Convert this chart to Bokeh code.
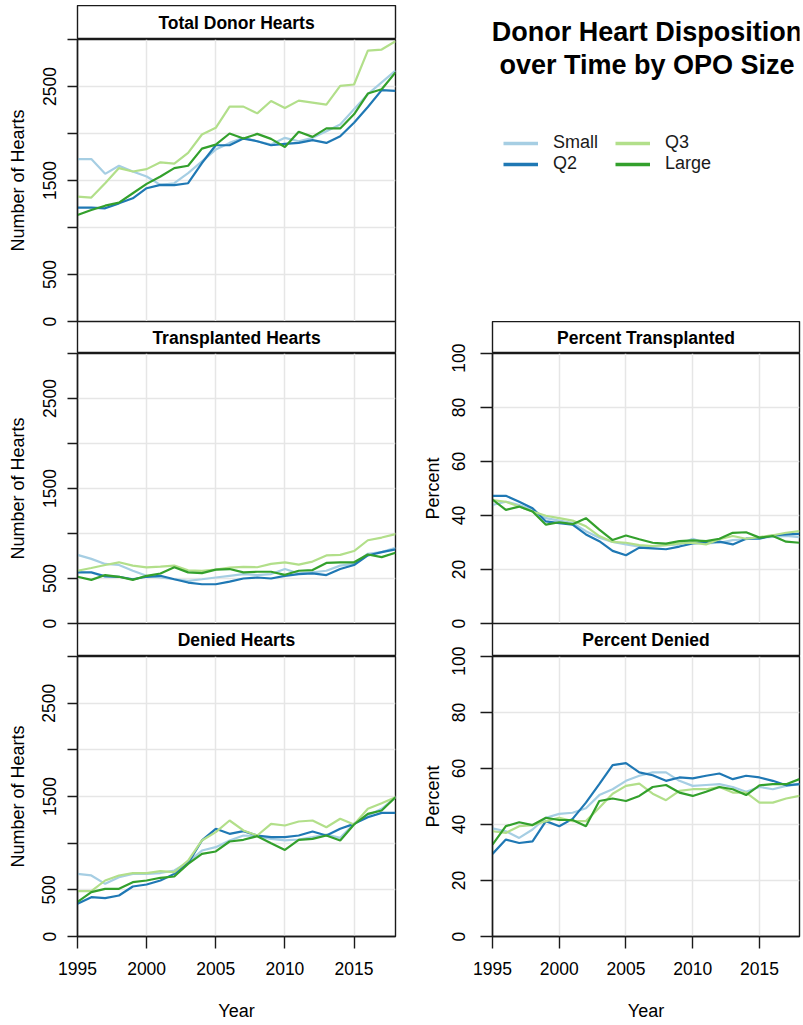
from bokeh.plotting import figure
from bokeh.layouts import column, row
from bokeh.models import Range1d, FixedTicker, Label, Legend, LegendItem
from bokeh.embed import file_html
from bokeh.resources import INLINE

FONT = "Liberation Sans"

years = [1995, 1996, 1997, 1998, 1999, 2000, 2001, 2002, 2003, 2004, 2005, 2006,
         2007, 2008, 2009, 2010, 2011, 2012, 2013, 2014, 2015, 2016, 2017, 2018]
series_names = ["Small", "Q2", "Q3", "Large"]
series_colors = ["#A6CEE3", "#1F78B4", "#B2DF8A", "#33A02C"]

# Total donor hearts
total_small = [1728, 1728, 1571, 1657, 1596, 1543, 1454, 1471, 1579, 1704, 1829, 1900,
               1954, 1918, 1882, 1954, 1918, 1954, 2025, 2096, 2257, 2418, 2543, 2668]
total_q2 = [1211, 1211, 1204, 1257, 1311, 1418, 1454, 1450, 1471, 1686, 1875, 1875,
            1946, 1918, 1875, 1889, 1900, 1929, 1900, 1971, 2114, 2282, 2461, 2454]
total_q3 = [1329, 1318, 1471, 1632, 1596, 1621, 1693, 1679, 1793, 1989, 2060, 2285,
            2286, 2214, 2346, 2271, 2350, 2329, 2307, 2507, 2521, 2882, 2893, 2982]
total_large = [1132, 1186, 1232, 1264, 1364, 1464, 1543, 1632, 1657, 1839, 1882, 2000,
               1946, 1996, 1943, 1857, 2018, 1964, 2054, 2054, 2204, 2425, 2471, 2650]

# Transplanted hearts
tx_small = [763, 718, 662, 650, 586, 530, 511, 492, 474, 492, 511, 530,
            549, 538, 549, 605, 556, 568, 586, 643, 662, 775, 793, 842]
tx_q2 = [568, 568, 523, 519, 492, 519, 530, 492, 455, 436, 436, 466,
         500, 511, 500, 530, 549, 556, 538, 605, 650, 756, 793, 823]
tx_q3 = [586, 617, 650, 680, 643, 624, 632, 643, 590, 585, 600, 620,
         630, 625, 662, 680, 654, 688, 756, 763, 805, 925, 955, 993]
tx_large = [519, 485, 538, 519, 485, 530, 556, 624, 568, 560, 598, 605,
            568, 575, 575, 541, 586, 594, 673, 680, 680, 767, 737, 786]

# Denied hearts
dn_small = [671, 654, 564, 636, 671, 671, 680, 707, 796, 921, 957, 1029,
            1082, 1075, 1046, 1029, 1039, 1064, 1093, 1057, 1207, 1296, 1368, 1492]
dn_q2 = [350, 421, 411, 439, 536, 557, 600, 671, 786, 1029, 1154, 1100,
         1129, 1082, 1064, 1064, 1082, 1125, 1082, 1154, 1207, 1278, 1325, 1325]
dn_q3 = [486, 486, 600, 654, 679, 679, 700, 689, 814, 1029, 1118, 1243,
         1136, 1082, 1207, 1189, 1232, 1243, 1171, 1261, 1200, 1368, 1428, 1492]
dn_large = [370, 475, 511, 511, 582, 600, 629, 643, 778, 886, 911, 1018,
            1036, 1075, 1000, 928, 1036, 1046, 1082, 1029, 1200, 1314, 1350, 1492]

# Percent transplanted
pt_small = [43.9, 45.1, 43.9, 42.1, 39.0, 38.1, 37.2, 34.2, 31.8, 30.2, 29.3, 28.5,
            28.7, 29.0, 29.3, 31.4, 29.7, 29.9, 30.9, 31.2, 31.8, 32.1, 32.4, 32.0]
pt_q2 = [47.3, 47.3, 45.1, 42.7, 37.8, 37.2, 36.6, 33.0, 30.5, 26.9, 25.3, 28.1,
         27.8, 27.5, 28.5, 29.7, 29.9, 30.3, 29.3, 31.4, 31.4, 32.6, 33.0, 33.2]
pt_q3 = [45.7, 45.1, 43.3, 41.5, 39.9, 39.0, 38.1, 36.0, 32.4, 30.2, 29.9, 29.0,
         28.7, 29.0, 29.7, 29.9, 29.3, 31.2, 32.4, 31.4, 32.0, 32.7, 33.6, 34.2]
pt_large = [45.9, 42.1, 43.3, 41.5, 36.6, 37.5, 36.8, 39.0, 34.8, 30.9, 32.6, 31.2,
            29.9, 29.6, 30.5, 30.8, 30.5, 31.4, 33.6, 33.8, 31.8, 32.4, 30.3, 29.9]

# Percent denied
pd_small = [38.6, 37.6, 35.2, 38.2, 42.4, 43.8, 44.2, 45.8, 50.5, 52.6, 55.6, 57.4,
            58.6, 58.6, 55.6, 53.8, 54.1, 54.4, 53.4, 51.7, 53.4, 52.6, 53.8, 54.4]
pd_q2 = [29.5, 34.6, 33.4, 34.0, 41.2, 39.4, 42.0, 47.8, 54.4, 61.2, 61.9, 58.6,
         57.6, 55.6, 56.8, 56.5, 57.4, 58.2, 56.2, 57.4, 56.8, 55.6, 54.0, 54.4]
pd_q3 = [37.6, 37.0, 39.4, 39.8, 41.2, 42.4, 41.2, 41.2, 46.0, 51.0, 53.8, 54.6,
         51.0, 48.7, 52.0, 52.6, 52.6, 53.4, 51.4, 51.4, 47.8, 47.8, 49.3, 50.2]
pd_large = [32.8, 39.4, 40.8, 39.8, 42.4, 41.6, 41.6, 39.4, 48.4, 49.3, 48.4, 50.2,
            53.4, 54.1, 51.4, 50.2, 51.7, 53.4, 52.6, 50.5, 54.0, 54.4, 54.4, 56.2]

count_ticks = [0, 500, 1000, 1500, 2000, 2500, 3000]
count_hidden_labels = {1000: "", 2000: "", 3000: ""}
pct_ticks = [0, 20, 40, 60, 80, 100]
year_ticks = [1995, 2000, 2005, 2010, 2015]
year_grid = [2000, 2005, 2010, 2015]

main_title = "Donor Heart Disposition\nover Time by OPO Size"

GRID = "#E6E6E6"
FRAME = "#1a1a1a"

# Column geometry (page has no margin: canvas starts at 0,0)
L_W, L_LEFT, L_RIGHT = 410, 77, 15
R_W, R_LEFT, R_RIGHT = 393, 82, 4
BOTTOM = 88


def strip(title, w, left, right, h, mtop):
    s = figure(width=w, height=h, x_range=Range1d(0, 1), y_range=Range1d(0, 1),
               toolbar_location=None, output_backend="svg", title=None,
               x_axis_location=None, y_axis_location=None,
               min_border_left=left, min_border_right=right,
               min_border_top=0, min_border_bottom=0)
    s.grid.visible = False
    s.outline_line_color = FRAME
    s.outline_line_width = 1.4
    s.background_fill_color = "white"
    s.border_fill_color = None
    s.margin = (mtop, 0, 0, 0)
    s.add_layout(Label(x=0.5, y=0.5, text=title, text_align="center",
                       text_baseline="middle", text_font=FONT,
                       text_font_size="17.5px", text_font_style="bold",
                       text_color="black"))
    return s


def panel(series, w, left, right, frame_h, bottom, y_end, yticks, overrides,
          ylabel, y_tick_out, y_tick_standoff, y_label_standoff, show_x):
    h = 10 + frame_h + bottom
    p = figure(width=w, height=h, x_range=Range1d(1995, 2018), y_range=Range1d(0, y_end),
               toolbar_location=None, output_backend="svg", title=None,
               x_axis_location="below" if show_x else None, y_axis_location="left",
               min_border_left=left, min_border_right=right,
               min_border_top=10, min_border_bottom=bottom)
    p.margin = (-10, 0, 0, 0)
    p.background_fill_color = "white"
    p.border_fill_color = None
    p.outline_line_color = FRAME
    p.outline_line_width = 1.4

    p.xgrid.ticker = FixedTicker(ticks=year_grid)
    p.ygrid.ticker = FixedTicker(ticks=yticks)
    for g in (p.xgrid, p.ygrid):
        g.grid_line_color = GRID
        g.grid_line_width = 1.5

    ya = p.yaxis[0]
    ya.ticker = FixedTicker(ticks=yticks)
    ya.major_label_overrides = overrides
    ya.major_label_orientation = "vertical"
    ya.major_tick_in = 0
    ya.major_tick_out = y_tick_out
    ya.minor_tick_line_color = None
    ya.major_tick_line_color = FRAME
    ya.major_tick_line_width = 1.4
    ya.axis_line_color = FRAME
    ya.axis_line_width = 1.4
    ya.major_label_standoff = y_tick_standoff
    ya.major_label_text_font = FONT
    ya.major_label_text_font_size = "17.5px"
    ya.major_label_text_color = "black"
    ya.axis_label = ylabel
    ya.axis_label_standoff = y_label_standoff
    ya.axis_label_text_font = FONT
    ya.axis_label_text_font_size = "18px"
    ya.axis_label_text_font_style = "normal"
    ya.axis_label_text_color = "black"

    if show_x:
        xa = p.xaxis[0]
        xa.ticker = FixedTicker(ticks=year_ticks)
        xa.major_tick_in = 0
        xa.major_tick_out = 12
        xa.minor_tick_line_color = None
        xa.major_tick_line_color = FRAME
        xa.major_tick_line_width = 1.4
        xa.axis_line_color = FRAME
        xa.axis_line_width = 1.4
        xa.major_label_standoff = 13
        xa.major_label_text_font = FONT
        xa.major_label_text_font_size = "17.5px"
        xa.major_label_text_color = "black"
        xa.axis_label = "Year"
        xa.axis_label_standoff = 23
        xa.axis_label_text_font = FONT
        xa.axis_label_text_font_size = "18px"
        xa.axis_label_text_font_style = "normal"
        xa.axis_label_text_color = "black"

    for vals, c in zip(series, series_colors):
        p.line(years, vals, line_color=c, line_width=2.2)
    return p


# ---- left column ----
s1 = strip("Total Donor Hearts", L_W, L_LEFT, L_RIGHT, 34, 5)
p1 = panel([total_small, total_q2, total_q3, total_large], L_W, L_LEFT, L_RIGHT, 282, 8,
           3000, count_ticks, count_hidden_labels, "Number of Hearts", 10, 12, 12, False)
s2 = strip("Transplanted Hearts", L_W, L_LEFT, L_RIGHT, 32, -8)
p2 = panel([tx_small, tx_q2, tx_q3, tx_large], L_W, L_LEFT, L_RIGHT, 270, 8,
           3000, count_ticks, count_hidden_labels, "Number of Hearts", 10, 12, 12, False)
s3 = strip("Denied Hearts", L_W, L_LEFT, L_RIGHT, 33, -8)
p3 = panel([dn_small, dn_q2, dn_q3, dn_large], L_W, L_LEFT, L_RIGHT, 280, BOTTOM,
           3000, count_ticks, count_hidden_labels, "Number of Hearts", 10, 12, 12, True)

# ---- right column: title and legend ----
T_H = 321
FW = R_W - R_LEFT - R_RIGHT
t = figure(width=R_W, height=T_H, x_range=Range1d(0, FW), y_range=Range1d(0, T_H),
           toolbar_location=None, output_backend="svg", title=None,
           x_axis_location=None, y_axis_location=None,
           min_border_left=R_LEFT, min_border_right=R_RIGHT,
           min_border_top=0, min_border_bottom=0)
t.grid.visible = False
t.outline_line_color = None
t.border_fill_color = None
t.background_fill_color = None
title_lines = main_title.split("\n")
t.add_layout(Label(x=154.5, y=289.5, text=title_lines[0], text_align="center",
                   text_baseline="alphabetic", text_font=FONT, text_font_size="27px",
                   text_font_style="bold", text_color="black"))
t.add_layout(Label(x=154.5, y=257, text=title_lines[1], text_align="center",
                   text_baseline="alphabetic", text_font=FONT, text_font_size="27px",
                   text_font_style="bold", text_color="black"))
# legend proxies: the Total series, plotted outside this figure's visible range
proxies = [t.line(years, vals, line_color=c, line_width=3.5)
           for vals, c in zip([total_small, total_q2, total_q3, total_large], series_colors)]
for idx, loc in ((0, (11, 147)), (2, (123, 147))):
    leg = Legend(items=[LegendItem(label=series_names[idx], renderers=[proxies[idx]]),
                        LegendItem(label=series_names[idx + 1], renderers=[proxies[idx + 1]])],
                 location=loc, glyph_width=35, glyph_height=18, label_height=18,
                 label_standoff=15, spacing=0, padding=0, margin=0,
                 border_line_color=None, background_fill_color=None,
                 label_text_font=FONT, label_text_font_size="18px",
                 label_text_color="#1a1a1a")
    t.add_layout(leg)

s4 = strip("Percent Transplanted", R_W, R_LEFT, R_RIGHT, 32, 0)
p4 = panel([pt_small, pt_q2, pt_q3, pt_large], R_W, R_LEFT, R_RIGHT, 270, 8,
           100, pct_ticks, {}, "Percent", 12, 16, 6, False)
s5 = strip("Percent Denied", R_W, R_LEFT, R_RIGHT, 33, -8)
p5 = panel([pd_small, pd_q2, pd_q3, pd_large], R_W, R_LEFT, R_RIGHT, 280, BOTTOM,
           100, pct_ticks, {}, "Percent", 12, 16, 6, True)

left = column(s1, p1, s2, p2, s3, p3, spacing=0)
right = column(t, s4, p4, s5, p5, spacing=0)
layout = row(left, right, spacing=0)

open("out.html", "w").write(file_html(layout, INLINE))
